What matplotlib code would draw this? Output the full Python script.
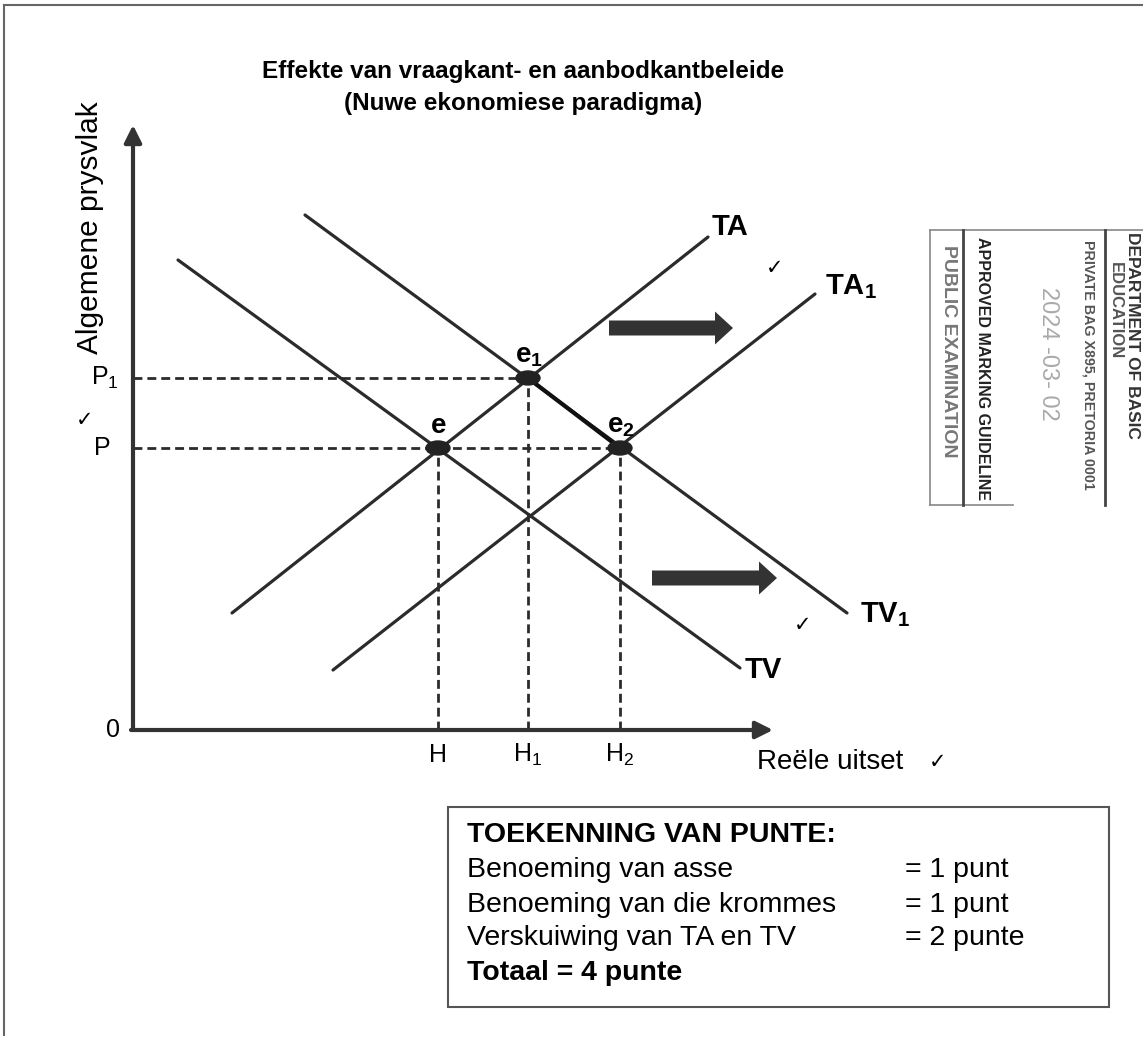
import matplotlib
matplotlib.use('Agg')
import matplotlib.pyplot as plt
from matplotlib.patches import Ellipse, Rectangle

plt.rcParams['font.family'] = ['Liberation Sans', 'DejaVu Sans']
plt.rcParams['mathtext.fontset'] = 'custom'
plt.rcParams['mathtext.rm'] = 'Liberation Sans'
plt.rcParams['mathtext.bf'] = 'Liberation Sans:bold'

# equilibrium values (uitset H, prysvlak P)
H, H1, H2 = 30.5, 39.5, 48.7
P, P1 = 28.2, 35.2

eq_names = ['e', r'e$_\mathbf{1}$', r'e$_\mathbf{2}$']
eq_x = [H, H1, H2]
eq_y = [P, P1, P]

# curves (endpoints)
tv_x, tv_y = [4.5, 60.7], [47.0, 6.2]
tv1_x, tv1_y = [17.2, 71.4], [51.5, 11.7]
ta_x, ta_y = [9.9, 57.5], [11.7, 49.3]
ta1_x, ta1_y = [20.0, 68.2], [6.0, 43.6]

# shift arrows
shift_start = [47.6, 51.9]
shift_end = [60.0, 64.4]
shift_y = [40.2, 15.2]

# axis lengths
x_axis_len = 64.0
y_axis_len = 60.5

box_left = ['Benoeming van asse', 'Benoeming van die krommes', 'Verskuiwing van TA en TV']
box_right = ['= 1 punt', '= 1 punt', '= 2 punte']


def generate_chart():
    fig = plt.figure(figsize=(11.43, 10.38), dpi=100)
    ax = fig.add_axes([0, 0, 1, 1])
    ax.set_xlim(-13.3, 101.0)
    ax.set_ylim(-30.8, 73.0)
    ax.axis('off')

    ink = '#2b2b2b'

    # page border
    ax.plot([-12.9, -12.9], [-30.5, 72.5], color='#666666', lw=1.5)
    ax.plot([-12.9, 101.0], [72.5, 72.5], color='#666666', lw=1.5)

    ax.text(39.0, 65.8, 'Effekte van vraagkant- en aanbodkantbeleide',
            ha='center', va='center', fontsize=17.5, fontweight='bold')
    ax.text(39.0, 62.6, '(Nuwe ekonomiese paradigma)',
            ha='center', va='center', fontsize=17.5, fontweight='bold')

    # axes
    ax.annotate('', xy=(0, y_axis_len), xytext=(0, 0),
                arrowprops=dict(arrowstyle='-|>', lw=3, color='#333333',
                                mutation_scale=26, shrinkA=0, shrinkB=0))
    ax.annotate('', xy=(x_axis_len, 0), xytext=(-0.2, 0),
                arrowprops=dict(arrowstyle='-|>', lw=3, color='#333333',
                                mutation_scale=26, shrinkA=0, shrinkB=0))

    ax.text(-4.3, 50.2, 'Algemene prysvlak', rotation=90, ha='center', va='center', fontsize=21.5)
    ax.text(62.4, -3.2, 'Reële uitset', ha='left', va='center', fontsize=20)
    ax.text(-2.0, 0, '0', ha='center', va='center', fontsize=18)

    # dashed guide lines
    dash = (0, (3.2, 1.8))
    ax.plot([0, H1], [P1, P1], color=ink, lw=2, linestyle=dash)
    ax.plot([0, H2], [P, P], color=ink, lw=2, linestyle=dash)
    for xv, yv in zip(eq_x, eq_y):
        ax.plot([xv, xv], [0, yv], color=ink, lw=2, linestyle=dash)

    ax.text(-2.8, P1, r'P$_\mathrm{1}$', ha='center', va='center', fontsize=18)
    ax.text(-3.1, P, 'P', ha='center', va='center', fontsize=18)
    ax.text(H, -2.5, 'H', ha='center', va='center', fontsize=18)
    ax.text(H1, -2.5, r'H$_\mathrm{1}$', ha='center', va='center', fontsize=18)
    ax.text(H2, -2.5, r'H$_\mathrm{2}$', ha='center', va='center', fontsize=18)

    # curves
    for cx, cy in [(tv_x, tv_y), (tv1_x, tv1_y), (ta_x, ta_y), (ta1_x, ta1_y)]:
        ax.plot(cx, cy, color=ink, lw=2.3, solid_capstyle='round')
    ax.plot([eq_x[1], eq_x[2]], [eq_y[1], eq_y[2]], color='#111111', lw=3)

    ax.text(ta_x[1] + 2.2, ta_y[1] + 1.0, 'TA', ha='center', va='center', fontsize=21, fontweight='bold')
    ax.text(ta1_x[1] + 1.0, ta1_y[1] + 0.7, r'TA$_\mathbf{1}$', ha='left', va='center', fontsize=21, fontweight='bold')
    ax.text(tv_x[1] + 0.5, tv_y[1] - 0.2, 'TV', ha='left', va='center', fontsize=21, fontweight='bold')
    ax.text(tv1_x[1] + 1.3, tv1_y[1] - 0.2, r'TV$_\mathbf{1}$', ha='left', va='center', fontsize=21, fontweight='bold')

    # equilibrium points
    for name, xv, yv in zip(eq_names, eq_x, eq_y):
        ax.add_patch(Ellipse((xv, yv), 2.4, 1.4, color='#222222', zorder=5))
        ax.text(xv + 0.1, yv + 2.2, name, ha='center', va='center', fontsize=20, fontweight='bold')

    # shift arrows
    for x0, x1, yv in zip(shift_start, shift_end, shift_y):
        ax.arrow(x0, yv, x1 - x0, 0, width=1.5, head_width=3.3, head_length=1.8,
                 length_includes_head=True, color='#333333', lw=0)

    # ticks
    for cx, cy in [(-4.8, 31.0), (64.2, 46.2), (67.0, 10.5), (80.5, -3.2)]:
        ax.text(cx, cy, '✓', ha='center', va='center', fontsize=15, family='DejaVu Sans')

    # marking box
    ax.add_patch(Rectangle((31.5, -27.7), 66.1, 20.0, fill=False, edgecolor='#555555', lw=1.5))
    ax.text(33.4, -10.5, 'TOEKENNING VAN PUNTE:', ha='left', va='center', fontsize=20.5, fontweight='bold')
    rows_y = [-14.0, -17.5, -20.8]
    for left, right, yv in zip(box_left, box_right, rows_y):
        ax.text(33.4, yv, left, ha='left', va='center', fontsize=20.5)
        ax.text(77.2, yv, right, ha='left', va='center', fontsize=20.5)
    ax.text(33.4, -24.3, 'Totaal = 4 punte', ha='left', va='center', fontsize=20.5, fontweight='bold')

    # stamp
    ax.plot([79.7, 79.7], [50.0, 22.5], color='#888888', lw=1.2)
    ax.plot([79.7, 101.0], [50.0, 50.0], color='#888888', lw=1.2)
    ax.plot([79.7, 88.0], [22.5, 22.5], color='#888888', lw=1.2)
    ax.plot([83.0, 83.0], [50.0, 22.5], color='#444444', lw=2)
    ax.plot([97.2, 97.2], [50.0, 22.5], color='#444444', lw=2)
    ax.text(81.6, 48.5, 'PUBLIC EXAMINATION', rotation=-90, ha='center', va='top',
            fontsize=14, fontweight='bold', color='#777777')
    ax.text(85.0, 49.3, 'APPROVED MARKING GUIDELINE', rotation=-90, ha='center', va='top',
            fontsize=11.5, fontweight='bold', color='#222222')
    ax.text(91.5, 44.3, '2024 -03- 02', rotation=-90, ha='center', va='top',
            fontsize=17, color='#aaaaaa')
    ax.text(95.6, 49.0, 'PRIVATE BAG X895, PRETORIA 0001', rotation=-90, ha='center', va='top',
            fontsize=10.3, fontweight='bold', color='#555555')
    ax.text(98.2, 46.8, 'EDUCATION', rotation=-90, ha='center', va='top',
            fontsize=12, fontweight='bold', color='#555555')
    ax.text(99.9, 49.8, 'DEPARTMENT OF BASIC', rotation=-90, ha='center', va='top',
            fontsize=12.5, fontweight='bold', color='#333333')

    fig.savefig('out.png', dpi=100)
    plt.close(fig)


def run():
    generate_chart()


if __name__ == '__main__':
    run()
